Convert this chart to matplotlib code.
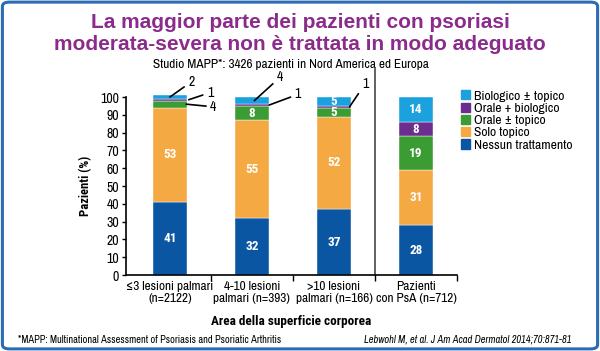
import matplotlib
matplotlib.use("Agg")
import matplotlib.pyplot as plt
import numpy as np
from matplotlib.patches import FancyBboxPatch, Patch

# data
groups = ["≤3 lesioni palmari\n(n=2122)", "4-10 lesioni\npalmari (n=393)",
          ">10 lesioni\npalmari (n=166)", "Pazienti\ncon PsA (n=712)"]
series = ["Nessun trattamento", "Solo topico", "Orale ± topico",
          "Orale + biologico", "Biologico ± topico"]
nessun = [41, 32, 37, 28]
solo_topico = [53, 55, 52, 31]
orale_topico = [4, 8, 5, 19]
orale_bio = [1, 1, 1, 8]
biologico = [2, 4, 5, 14]
colors = ["#0b56a3", "#f5a943", "#3c9c34", "#6b2e8f", "#1ba2de"]

# which segments get a label inside the bar (bar index, series index)
inside = {(0, 0), (0, 1), (1, 0), (1, 1), (1, 2), (2, 0), (2, 1), (2, 2), (2, 4),
          (3, 0), (3, 1), (3, 2), (3, 3), (3, 4)}
# callouts: bar, series, anchor x offset, text position (x, y)
callouts = [(0, 4, 0.0, (0.26, 108.5)), (0, 3, 0.23, (0.49, 102.5)),
            (0, 2, 0.2, (0.53, 94.5)), (1, 4, 0.03, (1.34, 111)),
            (1, 3, 0.21, (1.56, 101.5)), (2, 3, 0.19, (2.38, 107.5))]

plt.rcParams["font.family"] = ["Archivo Narrow", "Roboto Condensed", "DejaVu Sans"]
plt.rcParams["font.stretch"] = "condensed"
bold_fam = ["Roboto Condensed", "DejaVu Sans"]

fig = plt.figure(figsize=(6.0, 3.51), dpi=100)
ax = fig.add_axes([0.21, 0.2165, 0.5517, 0.507])

values = np.array([nessun, solo_topico, orale_topico, orale_bio, biologico])
x = np.arange(len(groups))
bottom = np.zeros(len(groups))
for s in range(len(series)):
    ax.bar(x, values[s], 0.41, bottom=bottom, color=colors[s],
           edgecolor="white", linewidth=0.3, clip_on=False, label=series[s])
    for i in range(len(groups)):
        if (i, s) in inside:
            ax.text(x[i], bottom[i] + values[s][i] / 2, str(values[s][i]),
                    ha="center", va="center", color="white",
                    fontsize=9.5, fontweight="bold", family=bold_fam)
    bottom = bottom + values[s]

cum = np.cumsum(values, axis=0)
for i, s, dx, (tx, ty) in callouts:
    mid = cum[s][i] - values[s][i] / 2
    ax.annotate(str(values[s][i]), xy=(x[i] + dx, mid), xytext=(tx, ty),
                ha="center", va="center", fontsize=10, annotation_clip=False,
                arrowprops=dict(arrowstyle="-", lw=1.2, color="black",
                                shrinkA=1, shrinkB=0))

ax.set_xlim(-0.535, 3.49)
ax.set_ylim(0, 100)
ax.set_yticks(np.arange(0, 101, 10))
ax.tick_params(axis="y", labelsize=10, length=3, width=1, pad=2)
ax.set_xticks(x)
ax.set_xticklabels(groups, fontsize=9.5, linespacing=1.2)
ax.tick_params(axis="x", length=0, pad=4)
ax.set_xticks([0.5, 1.5, 2.5, 3.5], minor=True)
ax.tick_params(axis="x", which="minor", length=4, width=1)
for side in ["top", "right"]:
    ax.spines[side].set_visible(False)
ax.spines["left"].set_linewidth(1.2)
ax.spines["bottom"].set_linewidth(1.2)
ax.axvline(2.5, 0, 1.16, color="#555555", lw=1.3, clip_on=False)

ax.set_ylabel("Pazienti (%)", fontsize=9, fontweight="bold", labelpad=6,
              family=bold_fam)
ax.set_xlabel("Area della superficie corporea", fontsize=9.5,
              fontweight="bold", labelpad=8, family=bold_fam)

handles = [Patch(color=colors[s]) for s in range(len(series))][::-1]
fig.legend(handles, series[::-1], loc="upper left",
           bbox_to_anchor=(0.757, 0.762), frameon=False, fontsize=9.8,
           handlelength=0.65, handleheight=0.65, handletextpad=0.3,
           labelspacing=0.07, borderpad=0)

fig.text(0.5, 0.905, "La maggior parte dei pazienti con psoriasi\n"
         "moderata-severa non è trattata in modo adeguato",
         ha="center", va="center", color="#8b2b8c", fontsize=15,
         fontweight="bold", family="Liberation Sans", fontstretch="normal",
         linespacing=1.2)
fig.text(0.485, 0.815, "Studio MAPP*: 3426 pazienti in Nord America ed Europa",
         ha="center", va="center", fontsize=9.5)
fig.text(0.03, 0.032, "*MAPP: Multinational Assessment of Psoriasis and Psoriatic Arthritis",
         ha="left", va="center", fontsize=7.5)
fig.text(0.953, 0.032, "Lebwohl M, et al. J Am Acad Dermatol 2014;70:871-81",
         ha="right", va="center", fontsize=7.5, style="italic")

frame = FancyBboxPatch((0.004, 0.006), 0.992, 0.988, transform=fig.transFigure,
                       boxstyle="round,pad=0,rounding_size=0.012",
                       facecolor="none", edgecolor="#2b6cb4", lw=2.2)
fig.patches.append(frame)

fig.savefig("out.png", dpi=100)
